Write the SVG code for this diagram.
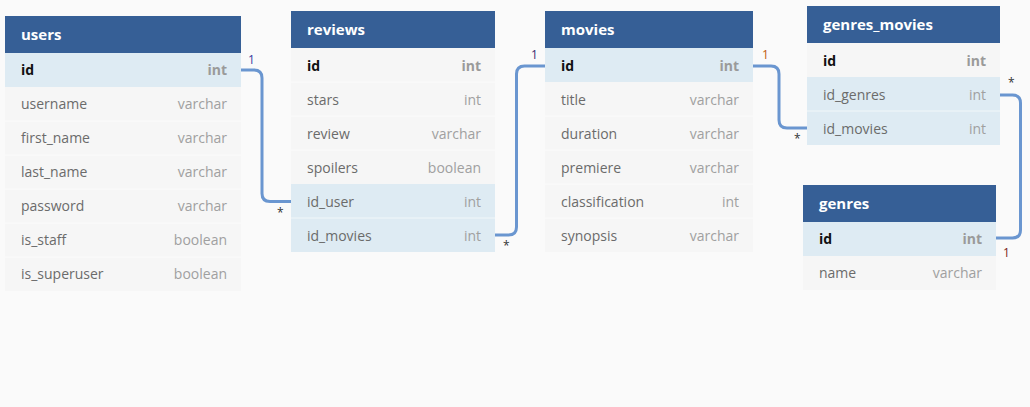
<svg xmlns="http://www.w3.org/2000/svg" width="1030" height="407" viewBox="0 0 1030 407">
<style>
.bg{fill:#fafafa}
.hd{fill:#365f96}
.row{fill:#f6f6f6}
.hl{fill:#deebf3}
.sep{stroke:#ffffff;stroke-width:1;opacity:0.6}
.ht{font-family:"Open Sans","Noto Sans",sans-serif;font-size:15px;font-weight:bold;fill:#ffffff}
.fn{font-family:"Open Sans","Noto Sans",sans-serif;font-size:14px;fill:#6b6b6b}
.ft{font-family:"Open Sans","Noto Sans",sans-serif;font-size:14px;fill:#a0a0a0;text-anchor:end}
.pk{font-weight:bold;fill:#111111}
.pkt{font-weight:bold;fill:#9a9a9a}
.con{fill:none;stroke:#6a96d0;stroke-width:3}
.lb{font-family:"Open Sans","Noto Sans",sans-serif;font-size:12px}
</style>
<rect class="bg" x="0" y="0" width="1030" height="407"/>

<g id="connectors">
<path class="con" d="M241,70 H254 Q262,70 262,78 V193.5 Q262,201.5 270,201.5 H291"/>
<text class="lb" x="248" y="64" fill="#3a3aa0">1</text>
<text class="lb" x="277" y="217" fill="#333333">*</text>
<path class="con" d="M495,235 H508.5 Q516.5,235 516.5,227 V74 Q516.5,66 524.5,66 H545"/>
<text class="lb" x="531" y="59" fill="#3a2a70">1</text>
<text class="lb" x="503" y="250" fill="#333333">*</text>
<path class="con" d="M753,66 H771 Q779,66 779,74 V120 Q779,128 787,128 H807"/>
<text class="lb" x="762" y="59" fill="#c05a10">1</text>
<text class="lb" x="794" y="143" fill="#333333">*</text>
<path class="con" d="M1000,95 H1012.5 Q1020.5,95 1020.5,103 V230 Q1020.5,238 1012.5,238 H996"/>
<text class="lb" x="1008" y="87" fill="#333333">*</text>
<text class="lb" x="1003" y="257" fill="#7a1a1a">1</text>
</g>

<g id="users">
<rect class="hd" x="5" y="16" width="236" height="37"/>
<text class="ht" x="21" y="40">users</text>
<rect class="hl" x="5" y="53" width="236" height="34"/>
<rect class="row" x="5" y="87" width="236" height="204"/>
<line class="sep" x1="5" y1="121" x2="241" y2="121"/>
<line class="sep" x1="5" y1="155" x2="241" y2="155"/>
<line class="sep" x1="5" y1="189" x2="241" y2="189"/>
<line class="sep" x1="5" y1="223" x2="241" y2="223"/>
<line class="sep" x1="5" y1="257" x2="241" y2="257"/>
<text class="fn pk" x="21" y="75">id</text><text class="ft pkt" x="227" y="75">int</text>
<text class="fn" x="21" y="109">username</text><text class="ft" x="227" y="109">varchar</text>
<text class="fn" x="21" y="143">first_name</text><text class="ft" x="227" y="143">varchar</text>
<text class="fn" x="21" y="177">last_name</text><text class="ft" x="227" y="177">varchar</text>
<text class="fn" x="21" y="211">password</text><text class="ft" x="227" y="211">varchar</text>
<text class="fn" x="21" y="245">is_staff</text><text class="ft" x="227" y="245">boolean</text>
<text class="fn" x="21" y="279">is_superuser</text><text class="ft" x="227" y="279">boolean</text>
</g>

<g id="reviews">
<rect class="hd" x="291" y="11" width="204" height="37"/>
<text class="ht" x="307" y="35">reviews</text>
<rect class="row" x="291" y="48" width="204" height="136"/>
<rect class="hl" x="291" y="184" width="204" height="68"/>
<line class="sep" x1="291" y1="82" x2="495" y2="82"/>
<line class="sep" x1="291" y1="116" x2="495" y2="116"/>
<line class="sep" x1="291" y1="150" x2="495" y2="150"/>
<line class="sep" x1="291" y1="218" x2="495" y2="218"/>
<text class="fn pk" x="307" y="71">id</text><text class="ft pkt" x="481" y="71">int</text>
<text class="fn" x="307" y="105">stars</text><text class="ft" x="481" y="105">int</text>
<text class="fn" x="307" y="139">review</text><text class="ft" x="481" y="139">varchar</text>
<text class="fn" x="307" y="173">spoilers</text><text class="ft" x="481" y="173">boolean</text>
<text class="fn" x="307" y="207">id_user</text><text class="ft" x="481" y="207">int</text>
<text class="fn" x="307" y="241">id_movies</text><text class="ft" x="481" y="241">int</text>
</g>

<g id="movies">
<rect class="hd" x="545" y="11" width="208" height="37"/>
<text class="ht" x="561" y="35">movies</text>
<rect class="hl" x="545" y="48" width="208" height="34"/>
<rect class="row" x="545" y="82" width="208" height="170"/>
<line class="sep" x1="545" y1="116" x2="753" y2="116"/>
<line class="sep" x1="545" y1="150" x2="753" y2="150"/>
<line class="sep" x1="545" y1="184" x2="753" y2="184"/>
<line class="sep" x1="545" y1="218" x2="753" y2="218"/>
<text class="fn pk" x="561" y="71">id</text><text class="ft pkt" x="739" y="71">int</text>
<text class="fn" x="561" y="105">title</text><text class="ft" x="739" y="105">varchar</text>
<text class="fn" x="561" y="139">duration</text><text class="ft" x="739" y="139">varchar</text>
<text class="fn" x="561" y="173">premiere</text><text class="ft" x="739" y="173">varchar</text>
<text class="fn" x="561" y="207">classification</text><text class="ft" x="739" y="207">int</text>
<text class="fn" x="561" y="241">synopsis</text><text class="ft" x="739" y="241">varchar</text>
</g>

<g id="genres_movies">
<rect class="hd" x="807" y="6" width="193" height="37"/>
<text class="ht" x="823" y="30">genres_movies</text>
<rect class="row" x="807" y="43" width="193" height="34"/>
<rect class="hl" x="807" y="77" width="193" height="68"/>
<line class="sep" x1="807" y1="111" x2="1000" y2="111"/>
<text class="fn pk" x="823" y="66">id</text><text class="ft pkt" x="986" y="66">int</text>
<text class="fn" x="823" y="100">id_genres</text><text class="ft" x="986" y="100">int</text>
<text class="fn" x="823" y="134">id_movies</text><text class="ft" x="986" y="134">int</text>
</g>

<g id="genres">
<rect class="hd" x="803" y="185" width="193" height="37"/>
<text class="ht" x="819" y="209">genres</text>
<rect class="hl" x="803" y="222" width="193" height="34"/>
<rect class="row" x="803" y="256" width="193" height="34"/>
<text class="fn pk" x="819" y="244">id</text><text class="ft pkt" x="982" y="244">int</text>
<text class="fn" x="819" y="278">name</text><text class="ft" x="982" y="278">varchar</text>
</g>
</svg>
